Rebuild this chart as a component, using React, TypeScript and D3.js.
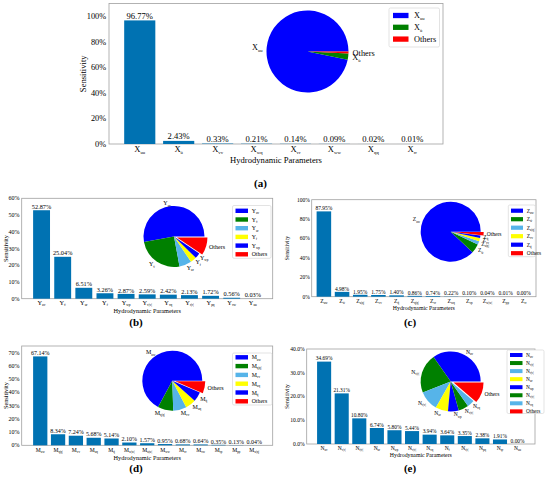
import React from 'react';
import * as d3 from 'd3';

// (a) surge force X
const xLabels = ['X_uu', 'X_u\u0307', 'X_vv', 'X_wq', 'X_vr', 'X_ww', 'X_qq', 'X_rr'];
const xValues = [96.77, 2.43, 0.33, 0.21, 0.14, 0.09, 0.02, 0.01];
const xPieLabels = ['X_uu', 'X_u\u0307', 'Others'];
const xPieValues = [96.77, 2.43, 0.8];

// (b) sway force Y
const yLabels = ['Y_uv', 'Y_v\u0307', 'Y_ur', 'Y_r\u0307', 'Y_wp', 'Y_v|v|', 'Y_vq', 'Y_r|r|', 'Y_pq', 'Y_vw', 'Y_uu'];
const yValues = [52.87, 25.04, 6.51, 3.26, 2.87, 2.59, 2.42, 2.13, 1.72, 0.56, 0.03];
const yPieLabels = ['Y_uv', 'Y_v\u0307', 'Y_ur', 'Y_r\u0307', 'Y_wp', 'Others'];
const yPieValues = [52.87, 25.04, 6.51, 3.26, 2.87, 9.45];

// (c) heave force Z
const zLabels = ['Z_uw', 'Z_w\u0307', 'Z_u|q|', 'Z_vv', 'Z_q\u0307', 'Z_q|q|', 'Z_vr', 'Z_wq', 'Z_vp', 'Z_w|w|', 'Z_pp', 'Z_rr'];
const zValues = [87.95, 4.98, 1.95, 1.75, 1.4, 0.86, 0.74, 0.22, 0.1, 0.04, 0.01, 0.0];
const zPieLabels = ['Z_uw', 'Z_w\u0307', 'Z_u|q|', 'Z_vv', 'Z_q\u0307', 'Others'];
const zPieValues = [87.95, 4.98, 1.95, 1.75, 1.4, 1.97];

// (d) pitch moment M
const mLabels = ['M_uw', 'M_q|q|', 'M_vv', 'M_uq', 'M_q\u0307', 'M_w|w|', 'M_u|w|', 'M_ww', 'M_vr', 'M_vw', 'M_rp', 'M_pp', 'M_w|q|'];
const mValues = [67.14, 8.34, 7.24, 5.68, 5.14, 2.1, 1.57, 0.95, 0.68, 0.64, 0.35, 0.13, 0.04];
const mPieLabels = ['M_uw', 'M_q|q|', 'M_vv', 'M_uq', 'M_q\u0307', 'Others'];
const mPieValues = [67.14, 8.34, 7.24, 5.68, 5.14, 6.46];

// (e) yaw moment N
const nLabels = ['N_uv', 'N_v|r|', 'N_r|v|', 'N_ur', 'N_wp', 'N_v|v|', 'N_vq', 'N_r\u0307', 'N_r|r|', 'N_pq', 'N_qr', 'N_uu'];
const nValues = [34.69, 21.31, 10.8, 6.74, 5.8, 5.44, 3.94, 3.64, 3.35, 2.38, 1.91, 0.0];
const nPieLabels = ['N_uv', 'N_v|r|', 'N_r|v|', 'N_ur', 'N_wp', 'N_v|v|', 'N_vq', 'Others'];
const nPieValues = [34.69, 21.31, 10.8, 6.74, 5.8, 5.44, 3.94, 11.28];

const BAR = '#0072B2';
const BLUE = '#0000ff';
const GREEN = '#008000';
const SKY = '#56B4E9';
const YELLOW = '#ffff00';
const RED = '#ff0000';
const FONT = '"Liberation Serif", "DejaVu Serif", serif';

function Sub({ text, x, y, fs, anchor = 'middle' }: any) {
  const i = text.indexOf('_');
  const base = i < 0 ? text : text.slice(0, i);
  const sub = i < 0 ? '' : text.slice(i + 1);
  return (
    <text x={x} y={y} fontSize={fs} textAnchor={anchor} fontFamily={FONT} fill="#000">
      {base}
      {sub && (
        <tspan fontSize={fs * 0.55} dy={fs * 0.22}>
          {sub}
        </tspan>
      )}
    </text>
  );
}

function Panel({ cfg }: any) {
  const { labels, values, pieLabels, pieValues, pieColors, box, yMax, yTicks, yFmt, pad, fs, pie, legend } = cfg;
  const n = labels.length;
  const m = pad ?? 0.05 * (n - 0.2);
  const x = d3.scaleLinear().domain([-0.4 - m, n - 1 + 0.4 + m]).range([box.l, box.r]);
  const y = d3.scaleLinear().domain([0, yMax]).range([box.b, box.t]);
  const bw = x(0.8) - x(0);

  // matplotlib-style pie: start at 3 o'clock, counter-clockwise
  const arcs = d3
    .pie<number>()
    .sort(null)
    .startAngle(Math.PI / 2)
    .endAngle(Math.PI / 2 - 2 * Math.PI)(pieValues);
  const arc = d3.arc<d3.PieArcDatum<number>>().innerRadius(0).outerRadius(pie.r);
  const last = arcs.length - 1;

  return (
    <g>
      <rect x={box.l} y={box.t} width={box.r - box.l} height={box.b - box.t} fill="none" stroke="#a0a0a0" strokeWidth={0.8} />
      {values.map((v: number, i: number) => (
        <rect key={i} x={x(i) - bw / 2} y={y(v)} width={bw} height={box.b - y(v)} fill={BAR} />
      ))}
      {values.map((v: number, i: number) => (
        <text key={'v' + i} x={x(i)} y={y(v) - fs.val * 0.22} fontSize={fs.val} textAnchor="middle" fontFamily={FONT}>
          {v.toFixed(2) + '%'}
        </text>
      ))}
      {yTicks.map((t: number) => (
        <text key={'t' + t} x={box.l - fs.tick * 0.35} y={y(t) + fs.tick * 0.35} fontSize={fs.tick} textAnchor="end" fontFamily={FONT}>
          {yFmt(t)}
        </text>
      ))}
      {labels.map((l: string, i: number) => (
        <Sub key={'x' + i} text={l} x={x(i)} y={cfg.xtickY + fs.x * 0.35} fs={fs.x} />
      ))}
      <text x={(box.l + box.r) / 2} y={cfg.xlabelY + fs.title * 0.35} fontSize={fs.title} textAnchor="middle" fontFamily={FONT}>
        Hydrodynamic Parameters
      </text>
      <text
        transform={`translate(${cfg.ylabelX},${(box.t + box.b) / 2}) rotate(-90)`}
        y={fs.title * 0.35}
        fontSize={fs.title}
        textAnchor="middle"
        fontFamily={FONT}
      >
        Sensitivity
      </text>
      <text x={cfg.caption.x} y={cfg.caption.y + 4} fontSize={11} fontWeight="bold" textAnchor="middle" fontFamily={FONT}>
        {cfg.caption.text}
      </text>

      {arcs.map((a, i) => {
        const mid = (a.startAngle + a.endAngle) / 2;
        const ex = i === last && arcs.length > 3 ? pie.r * 0.1 : 0;
        const ox = pie.cx + Math.sin(mid) * ex;
        const oy = pie.cy - Math.cos(mid) * ex;
        const lx = ox + Math.sin(mid) * pie.r * 1.1;
        const ly = oy - Math.cos(mid) * pie.r * 1.1;
        return (
          <g key={'p' + i}>
            <path d={arc(a)!} transform={`translate(${ox},${oy})`} fill={pieColors[i]} />
            <Sub text={pieLabels[i]} x={lx} y={ly + fs.pie * 0.35} fs={fs.pie} anchor={Math.sin(mid) >= 0 ? 'start' : 'end'} />
          </g>
        );
      })}

      <rect x={legend.x} y={legend.y} width={legend.w} height={legend.h} rx={1.5} fill="#fff" stroke="#d0d0d0" strokeWidth={0.6} />
      {pieLabels.map((l: string, i: number) => (
        <g key={'lg' + i}>
          <rect x={legend.x + legend.px} y={legend.row0 + i * legend.step - legend.ph / 2} width={legend.pw} height={legend.ph} fill={pieColors[i]} />
          <Sub text={l} x={legend.x + legend.tx} y={legend.row0 + i * legend.step + legend.fs * 0.35} fs={legend.fs} anchor="start" />
        </g>
      ))}
    </g>
  );
}

const pct = (t: number) => `${t}%`;
const pct1 = (t: number) => `${t.toFixed(1)}%`;

const panels = [
  {
    labels: xLabels, values: xValues, pieLabels: xPieLabels, pieValues: xPieValues,
    pieColors: [BLUE, GREEN, RED],
    box: { l: 109, r: 443, t: 3.5, b: 144 }, yMax: 110, yTicks: d3.range(0, 101, 20), yFmt: pct,
    fs: { val: 8.6, tick: 8.3, x: 8.6, title: 8.6, pie: 8.3 },
    pie: { cx: 307.5, cy: 51.5, r: 41 },
    legend: { x: 389, y: 8, w: 50.5, h: 39, row0: 15.5, step: 11.8, px: 4, pw: 15.5, ph: 5.3, tx: 25, fs: 8.3 },
    ylabelX: 83, xtickY: 149.3, xlabelY: 160.3, caption: { text: '(a)', x: 260.5, y: 182.7 },
  },
  {
    labels: yLabels, values: yValues, pieLabels: yPieLabels, pieValues: yPieValues,
    pieColors: [BLUE, GREEN, SKY, YELLOW, BLUE, RED],
    box: { l: 21.7, r: 272.7, t: 198.3, b: 298.7 }, yMax: 60, yTicks: d3.range(0, 61, 10), yFmt: pct,
    fs: { val: 6.3, tick: 6, x: 6.3, title: 6.3, pie: 6 },
    pie: { cx: 174, cy: 236.5, r: 30.5 },
    legend: { x: 232.5, y: 205.5, w: 38.5, h: 52.8, row0: 210.8, step: 8.7, px: 3, pw: 12.5, ph: 4.4, tx: 19.2, fs: 5.8 },
    ylabelX: 6, xtickY: 302.3, xlabelY: 310.7, caption: { text: '(b)', x: 136, y: 321.7 },
  },
  {
    labels: zLabels, values: zValues, pieLabels: zPieLabels, pieValues: zPieValues,
    pieColors: [BLUE, GREEN, SKY, YELLOW, BLUE, RED],
    box: { l: 311.7, r: 536, t: 199.7, b: 296.7 }, yMax: 100, yTicks: d3.range(0, 101, 20), yFmt: pct,
    pad: 0.27,
    fs: { val: 5.5, tick: 5.5, x: 5.7, title: 5.8, pie: 5.6 },
    pie: { cx: 450.7, cy: 231.7, r: 30 },
    legend: { x: 508.3, y: 205, w: 27, h: 51.7, row0: 210.7, step: 8.5, px: 2.7, pw: 12, ph: 4.2, tx: 18.5, fs: 5.4 },
    ylabelX: 286.7, xtickY: 301, xlabelY: 307.5, caption: { text: '(c)', x: 410, y: 321.7 },
  },
  {
    labels: mLabels, values: mValues, pieLabels: mPieLabels, pieValues: mPieValues,
    pieColors: [BLUE, GREEN, SKY, YELLOW, BLUE, RED],
    box: { l: 21.7, r: 272.7, t: 346, b: 445.3 }, yMax: 75, yTicks: d3.range(0, 71, 10), yFmt: pct,
    fs: { val: 6, tick: 6, x: 5.6, title: 6.3, pie: 6 },
    pie: { cx: 172.3, cy: 380.7, r: 30 },
    legend: { x: 232.5, y: 353, w: 39.5, h: 52, row0: 357.3, step: 8.8, px: 3, pw: 12.5, ph: 4.4, tx: 19.2, fs: 5.8 },
    ylabelX: 6, xtickY: 449.6, xlabelY: 457.5, caption: { text: '(d)', x: 136, y: 467.7 },
  },
  {
    labels: nLabels, values: nValues, pieLabels: nPieLabels, pieValues: nPieValues,
    pieColors: [BLUE, GREEN, SKY, YELLOW, BLUE, GREEN, SKY, RED],
    box: { l: 306.7, r: 535, t: 349, b: 444 }, yMax: 40, yTicks: d3.range(0, 41, 10), yFmt: pct1,
    fs: { val: 5.4, tick: 5.6, x: 5.5, title: 5.8, pie: 5.6 },
    pie: { cx: 450.7, cy: 381.5, r: 30 },
    legend: { x: 507, y: 350, w: 37, h: 63.5, row0: 355, step: 8.05, px: 3, pw: 12.5, ph: 4, tx: 19, fs: 5.4 },
    ylabelX: 286.7, xtickY: 448.3, xlabelY: 455.3, caption: { text: '(e)', x: 410, y: 467.7 },
  },
];

export default function App() {
  return (
    <svg width={550} height={486} style={{ position: 'absolute', left: 0, top: 0, background: '#fff' }}>
      <rect width={550} height={486} fill="#fff" />
      {panels.map((p, i) => (
        <Panel key={i} cfg={p} />
      ))}
    </svg>
  );
}
